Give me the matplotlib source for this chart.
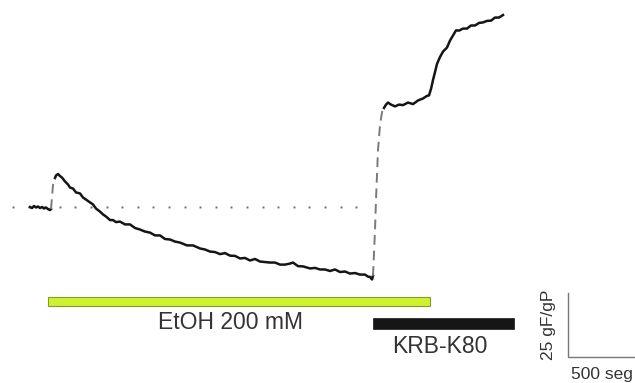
import numpy as np
import matplotlib
matplotlib.use('Agg')
import matplotlib.pyplot as plt

plt.rcParams['font.family'] = ['Liberation Sans', 'DejaVu Sans']

# fluorescence trace, time in seg, signal in gF/gP relative to baseline
t_base = [0, 15, 30, 45, 60, 75, 90, 105, 120, 135, 150, 157.5]
f_base = [0, -0.4, 0.4, -0.2, 0.2, -0.4, 0, -0.6, -0.2, -0.8, -1.2, -0.8]

t_jump = [157.5, 172.5, 187.5]
f_jump = [-0.8, 8.6, 11.3]

t_etoh = [187.5, 195, 210, 225, 240, 262.5, 285, 300, 322.5, 345, 375, 397.5,
          420, 450, 472.5, 495, 525, 547.5, 570, 600, 622.5, 645, 675, 712.5,
          750, 787.5, 825, 862.5, 900, 937.5, 975, 1012.5, 1050, 1087.5, 1125,
          1177.5, 1222.5, 1275, 1312.5, 1350, 1387.5, 1425, 1462.5, 1500,
          1537.5, 1575, 1612.5, 1650, 1687.5, 1725, 1762.5, 1800, 1837.5, 1875,
          1912.5, 1950, 1972.5, 2010, 2047.5, 2100, 2137.5, 2175, 2212.5, 2250,
          2287.5, 2325, 2362.5, 2400, 2437.5, 2475, 2512.5, 2535, 2550, 2565,
          2572.5]
f_etoh = [11.3, 12.3, 12.9, 12.1, 11.5, 10.0, 8.8, 7.6, 7.2, 5.7, 5.3, 3.7,
          2.9, 1.8, 1.0, -0.6, -1.8, -2.9, -3.7, -5.1, -5.1, -5.9, -5.7, -6.8,
          -6.8, -8.2, -8.8, -9.6, -10.0, -11.1, -11.1, -12.5, -12.7, -13.5,
          -13.9, -15.0, -15.0, -16.2, -16.6, -17.4, -17.6, -18.4, -18.0,
          -19.0, -19.1, -20.1, -19.9, -20.9, -20.3, -21.3, -21.5, -21.7,
          -21.7, -22.5, -22.5, -22.1, -21.7, -23.1, -23.2, -24.0, -23.8,
          -24.4, -24.4, -25.0, -24.4, -25.4, -25.2, -26.0, -25.8, -26.4,
          -26.4, -27.2, -27.3, -28.3, -26.9]

t_rise = [2572.5, 2587.5, 2595, 2610, 2625, 2640, 2655]
f_rise = [-26.9, -9.0, 2.7, 22.3, 32.0, 37.1, 38.7]

t_k80 = [2655, 2670, 2685, 2707.5, 2737.5, 2767.5, 2797.5, 2835, 2872.5,
         2910, 2947.5, 2977.5, 2992.5, 3007.5, 3022.5, 3037.5, 3052.5, 3075,
         3097.5, 3127.5, 3150, 3172.5, 3195, 3217.5, 3247.5, 3277.5, 3307.5,
         3337.5, 3367.5, 3397.5, 3427.5, 3457.5, 3487.5, 3517.5, 3547.5]
f_k80 = [38.7, 40.0, 40.8, 40.0, 39.3, 40.0, 39.8, 40.8, 40.2, 41.6, 42.4,
         43.4, 43.6, 46.1, 49.6, 52.7, 55.9, 58.6, 60.7, 62.3, 65.0, 67.0,
         69.0, 68.9, 69.7, 69.7, 70.9, 70.9, 71.9, 72.1, 72.7, 72.8, 74.0,
         74.0, 75.0]

# stimulus periods (seg)
etoh_on, etoh_off = 135, 3000
k80_on, k80_off = 2572.5, 3630

# scale bars
bar_t = 500
bar_f = 25


def main():
    fig = plt.figure(figsize=(6.35, 3.83), dpi=100)
    ax = fig.add_axes([0, 0, 1, 1])
    ax.set_xlim(-225, 4537.5)
    ax.set_ylim(-68.75, 80.86)
    ax.axis('off')

    # dotted baseline
    dots = np.arange(-127.5, 2560, 117)
    ax.plot(dots, np.zeros(len(dots)), 's', color='#6a6a6a', ms=1.4, mew=0)

    trace_kw = dict(color='#151515', lw=1.8, solid_joinstyle='round')
    ax.plot(t_base, f_base, **trace_kw)
    ax.plot(t_etoh, f_etoh, **trace_kw)
    ax.plot(t_k80, f_k80, **trace_kw)
    gap_kw = dict(color='#7a7a7a', lw=1.4, dashes=(5, 3))
    ax.plot(t_jump, f_jump, **gap_kw)
    ax.plot(t_rise, f_rise, **gap_kw)

    # stimulus bars
    ax.bar((etoh_on + etoh_off) / 2, 3.5, width=etoh_off - etoh_on,
           bottom=-38.7, color='#cdf230', edgecolor='#8a9a2a', lw=0.8)
    ax.bar((k80_on + k80_off) / 2, 4.3, width=k80_off - k80_on,
           bottom=-47.7, color='#161616', edgecolor='#161616', lw=0.5)
    ax.text(1500, -45.3, 'EtOH 200 mM', ha='center', va='center',
            fontsize=16.5, color='#333333')
    ax.text(3075, -54.3, 'KRB-K80', ha='center', va='center',
            fontsize=16.5, color='#333333')

    # scale bar
    x0, y0 = 4035, -58.6
    ax.plot([x0, x0, x0 + bar_t], [y0 + bar_f, y0, y0], color='#777777', lw=1.0)
    ax.text(x0 - 150, y0 + bar_f / 2, '%d gF/gP' % bar_f, rotation=90,
            ha='center', va='center', fontsize=12.5, color='#333333')
    ax.text(x0 + 255, y0 - 7, '%d seg' % bar_t, ha='center', va='center',
            fontsize=12.5, color='#333333')

    fig.savefig('out.png', dpi=100)
    plt.close(fig)


if __name__ == '__main__':
    main()
